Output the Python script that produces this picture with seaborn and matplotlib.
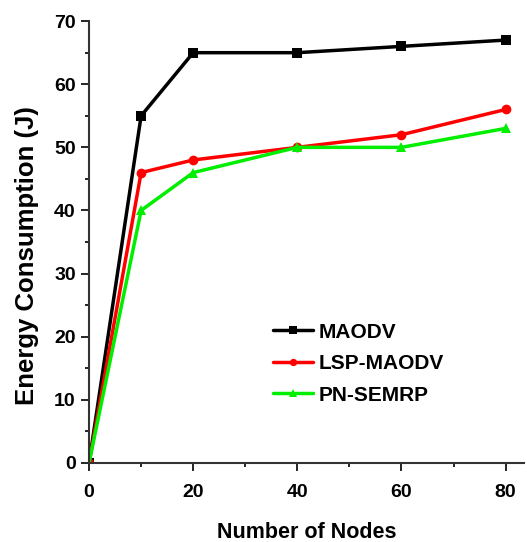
import pandas as pd
import matplotlib
matplotlib.use("Agg")
import matplotlib.pyplot as plt
import seaborn as sns
from matplotlib.ticker import MultipleLocator

nodes = [0, 10, 20, 40, 60, 80]
maodv = [0, 55, 65, 65, 66, 67]
lsp_maodv = [0, 46, 48, 50, 52, 56]
pn_semrp = [0, 40, 46, 50, 50, 53]

series = ["MAODV", "LSP-MAODV", "PN-SEMRP"]
colors = ["#000000", "#ff0000", "#00ee00"]
markers = ["s", "o", "^"]

df = pd.concat([
    pd.DataFrame({"Nodes": nodes, "Energy": vals, "Protocol": name})
    for name, vals in zip(series, [maodv, lsp_maodv, pn_semrp])
])

sns.set_theme(style="ticks", rc={"text.color": "black", "axes.labelcolor": "black",
                                  "xtick.color": "black", "ytick.color": "black",
                                  "axes.edgecolor": "#333333"})
plt.rcParams["font.family"] = ["Liberation Sans", "DejaVu Sans"]
plt.rcParams["font.weight"] = "bold"

fig = plt.figure(figsize=(5.27, 5.42), dpi=100)
ax = fig.add_axes([0.169, 0.146, 0.825, 0.815])

sns.lineplot(data=df, x="Nodes", y="Energy", hue="Protocol", style="Protocol",
             palette=colors, markers=markers, dashes=False, linewidth=2.5,
             markersize=7, markeredgewidth=0, ax=ax)

ax.set_xlim(0, 83.5)
ax.set_ylim(0, 70)
ax.xaxis.set_major_locator(MultipleLocator(20))
ax.xaxis.set_minor_locator(MultipleLocator(10))
ax.yaxis.set_major_locator(MultipleLocator(10))
ax.yaxis.set_minor_locator(MultipleLocator(5))
ax.tick_params(which="major", length=6, width=1.2, labelsize=14, direction="out")
ax.tick_params(which="minor", length=3, width=1.2, direction="out")
ax.tick_params(axis="x", which="major", pad=9)
for lab in ax.get_xticklabels() + ax.get_yticklabels():
    lab.set_fontweight("bold")
for s in ["left", "bottom"]:
    ax.spines[s].set_linewidth(1.5)
sns.despine(ax=ax)

ax.set_xlabel("Number of Nodes", fontsize=15.5, fontweight="bold", labelpad=15)
ax.set_ylabel("Energy Consumption (J)", fontsize=18.5, fontweight="bold")
ax.yaxis.set_label_coords(-0.115, 0.47)

ax.legend(frameon=False, loc="upper left", bbox_to_anchor=(0.38, 0.36),
          prop={"size": 15, "weight": "bold"}, handlelength=1.9,
          labelspacing=0.6, handletextpad=0.3, markerscale=0.75)

fig.savefig("out.png", dpi=100)
